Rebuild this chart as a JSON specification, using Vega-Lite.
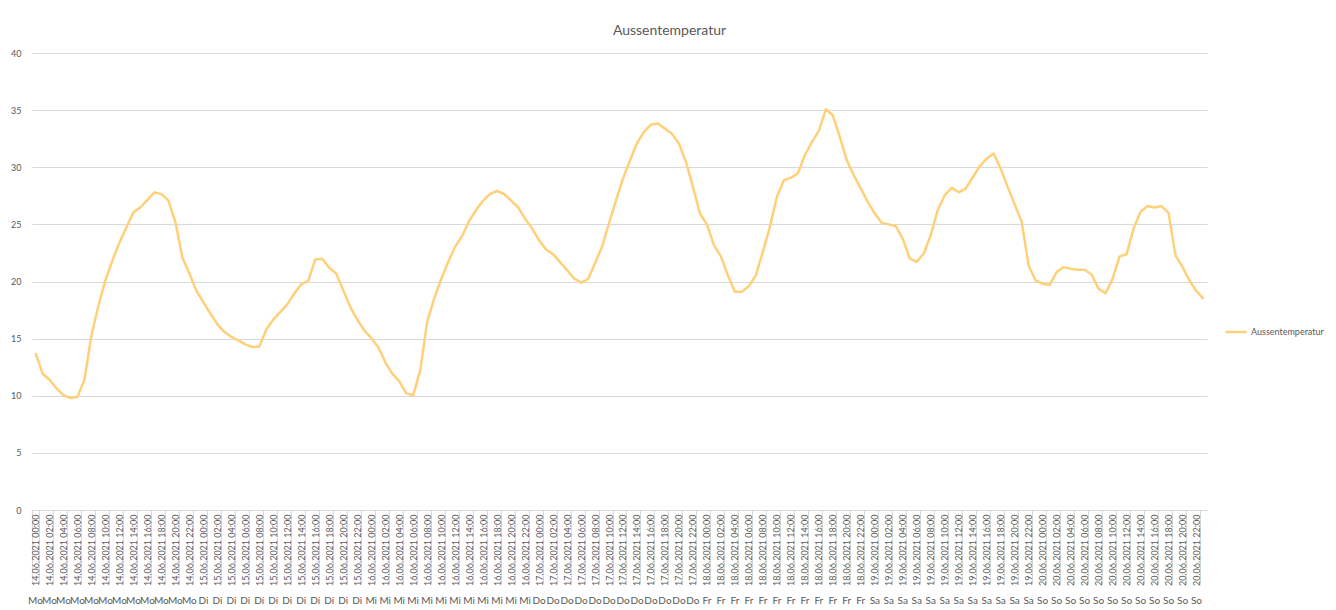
{
  "$schema": "https://vega.github.io/schema/vega-lite/v6.json",
  "width": 1175,
  "height": 457,
  "autosize": {"type": "none"},
  "padding": {"left": 32, "top": 53, "right": 129, "bottom": 100},
  "background": "white",
  "title": {"text": "Aussentemperatur", "fontSize": 14, "fontWeight": "normal", "color": "#595959", "font": "Lato", "offset": 11, "dx": 50},
  "config": {"view": {"stroke": null}, "font": "Lato"},
  "data": {"values": [
    {"t":"14.06.2021 00:00","d":"Mo","v":13.75},{"t":"14.06.2021 01:00","d":"Mo","v":11.95},{"t":"14.06.2021 02:00","d":"Mo","v":11.4},{"t":"14.06.2021 03:00","d":"Mo","v":10.65},{"t":"14.06.2021 04:00","d":"Mo","v":10.05},{"t":"14.06.2021 05:00","d":"Mo","v":9.8},{"t":"14.06.2021 06:00","d":"Mo","v":9.9},{"t":"14.06.2021 07:00","d":"Mo","v":11.4},{"t":"14.06.2021 08:00","d":"Mo","v":15.3},{"t":"14.06.2021 09:00","d":"Mo","v":17.9},{"t":"14.06.2021 10:00","d":"Mo","v":20.1},{"t":"14.06.2021 11:00","d":"Mo","v":21.85},{"t":"14.06.2021 12:00","d":"Mo","v":23.4},{"t":"14.06.2021 13:00","d":"Mo","v":24.75},{"t":"14.06.2021 14:00","d":"Mo","v":26.05},{"t":"14.06.2021 15:00","d":"Mo","v":26.5},{"t":"14.06.2021 16:00","d":"Mo","v":27.15},{"t":"14.06.2021 17:00","d":"Mo","v":27.8},{"t":"14.06.2021 18:00","d":"Mo","v":27.65},{"t":"14.06.2021 19:00","d":"Mo","v":27.1},{"t":"14.06.2021 20:00","d":"Mo","v":25.2},{"t":"14.06.2021 21:00","d":"Mo","v":22.1},{"t":"14.06.2021 22:00","d":"Mo","v":20.7},{"t":"14.06.2021 23:00","d":"Mo","v":19.2},
    {"t":"15.06.2021 00:00","d":"Di","v":18.2},{"t":"15.06.2021 01:00","d":"Di","v":17.2},{"t":"15.06.2021 02:00","d":"Di","v":16.25},{"t":"15.06.2021 03:00","d":"Di","v":15.6},{"t":"15.06.2021 04:00","d":"Di","v":15.15},{"t":"15.06.2021 05:00","d":"Di","v":14.85},{"t":"15.06.2021 06:00","d":"Di","v":14.5},{"t":"15.06.2021 07:00","d":"Di","v":14.27},{"t":"15.06.2021 08:00","d":"Di","v":14.3},{"t":"15.06.2021 09:00","d":"Di","v":15.8},{"t":"15.06.2021 10:00","d":"Di","v":16.67},{"t":"15.06.2021 11:00","d":"Di","v":17.34},{"t":"15.06.2021 12:00","d":"Di","v":18.0},{"t":"15.06.2021 13:00","d":"Di","v":18.95},{"t":"15.06.2021 14:00","d":"Di","v":19.77},{"t":"15.06.2021 15:00","d":"Di","v":20.06},{"t":"15.06.2021 16:00","d":"Di","v":21.93},{"t":"15.06.2021 17:00","d":"Di","v":22.0},{"t":"15.06.2021 18:00","d":"Di","v":21.2},{"t":"15.06.2021 19:00","d":"Di","v":20.7},{"t":"15.06.2021 20:00","d":"Di","v":19.24},{"t":"15.06.2021 21:00","d":"Di","v":17.78},{"t":"15.06.2021 22:00","d":"Di","v":16.67},{"t":"15.06.2021 23:00","d":"Di","v":15.73},
    {"t":"16.06.2021 00:00","d":"Mi","v":15.06},{"t":"16.06.2021 01:00","d":"Mi","v":14.27},{"t":"16.06.2021 02:00","d":"Mi","v":12.95},{"t":"16.06.2021 03:00","d":"Mi","v":11.93},{"t":"16.06.2021 04:00","d":"Mi","v":11.29},{"t":"16.06.2021 05:00","d":"Mi","v":10.23},{"t":"16.06.2021 06:00","d":"Mi","v":10.03},{"t":"16.06.2021 07:00","d":"Mi","v":12.2},{"t":"16.06.2021 08:00","d":"Mi","v":16.46},{"t":"16.06.2021 09:00","d":"Mi","v":18.5},{"t":"16.06.2021 10:00","d":"Mi","v":20.2},{"t":"16.06.2021 11:00","d":"Mi","v":21.7},{"t":"16.06.2021 12:00","d":"Mi","v":23.04},{"t":"16.06.2021 13:00","d":"Mi","v":23.98},{"t":"16.06.2021 14:00","d":"Mi","v":25.3},{"t":"16.06.2021 15:00","d":"Mi","v":26.26},{"t":"16.06.2021 16:00","d":"Mi","v":27.08},{"t":"16.06.2021 17:00","d":"Mi","v":27.66},{"t":"16.06.2021 18:00","d":"Mi","v":27.92},{"t":"16.06.2021 19:00","d":"Mi","v":27.66},{"t":"16.06.2021 20:00","d":"Mi","v":27.08},{"t":"16.06.2021 21:00","d":"Mi","v":26.5},{"t":"16.06.2021 22:00","d":"Mi","v":25.5},{"t":"16.06.2021 23:00","d":"Mi","v":24.65},
    {"t":"17.06.2021 00:00","d":"Do","v":23.6},{"t":"17.06.2021 01:00","d":"Do","v":22.8},{"t":"17.06.2021 02:00","d":"Do","v":22.4},{"t":"17.06.2021 03:00","d":"Do","v":21.7},{"t":"17.06.2021 04:00","d":"Do","v":21.0},{"t":"17.06.2021 05:00","d":"Do","v":20.26},{"t":"17.06.2021 06:00","d":"Do","v":19.9},{"t":"17.06.2021 07:00","d":"Do","v":20.2},{"t":"17.06.2021 08:00","d":"Do","v":21.6},{"t":"17.06.2021 09:00","d":"Do","v":23.04},{"t":"17.06.2021 10:00","d":"Do","v":25.1},{"t":"17.06.2021 11:00","d":"Do","v":27.1},{"t":"17.06.2021 12:00","d":"Do","v":29.0},{"t":"17.06.2021 13:00","d":"Do","v":30.6},{"t":"17.06.2021 14:00","d":"Do","v":32.1},{"t":"17.06.2021 15:00","d":"Do","v":33.1},{"t":"17.06.2021 16:00","d":"Do","v":33.73},{"t":"17.06.2021 17:00","d":"Do","v":33.82},{"t":"17.06.2021 18:00","d":"Do","v":33.38},{"t":"17.06.2021 19:00","d":"Do","v":32.94},{"t":"17.06.2021 20:00","d":"Do","v":32.07},{"t":"17.06.2021 21:00","d":"Do","v":30.47},{"t":"17.06.2021 22:00","d":"Do","v":28.28},{"t":"17.06.2021 23:00","d":"Do","v":25.95},
    {"t":"18.06.2021 00:00","d":"Fr","v":25.0},{"t":"18.06.2021 01:00","d":"Fr","v":23.18},{"t":"18.06.2021 02:00","d":"Fr","v":22.2},{"t":"18.06.2021 03:00","d":"Fr","v":20.55},{"t":"18.06.2021 04:00","d":"Fr","v":19.1},{"t":"18.06.2021 05:00","d":"Fr","v":19.1},{"t":"18.06.2021 06:00","d":"Fr","v":19.6},{"t":"18.06.2021 07:00","d":"Fr","v":20.55},{"t":"18.06.2021 08:00","d":"Fr","v":22.6},{"t":"18.06.2021 09:00","d":"Fr","v":24.78},{"t":"18.06.2021 10:00","d":"Fr","v":27.4},{"t":"18.06.2021 11:00","d":"Fr","v":28.86},{"t":"18.06.2021 12:00","d":"Fr","v":29.07},{"t":"18.06.2021 13:00","d":"Fr","v":29.45},{"t":"18.06.2021 14:00","d":"Fr","v":31.05},{"t":"18.06.2021 15:00","d":"Fr","v":32.2},{"t":"18.06.2021 16:00","d":"Fr","v":33.18},{"t":"18.06.2021 17:00","d":"Fr","v":35.07},{"t":"18.06.2021 18:00","d":"Fr","v":34.55},{"t":"18.06.2021 19:00","d":"Fr","v":32.65},{"t":"18.06.2021 20:00","d":"Fr","v":30.6},{"t":"18.06.2021 21:00","d":"Fr","v":29.3},{"t":"18.06.2021 22:00","d":"Fr","v":28.13},{"t":"18.06.2021 23:00","d":"Fr","v":26.97},
    {"t":"19.06.2021 00:00","d":"Sa","v":25.95},{"t":"19.06.2021 01:00","d":"Sa","v":25.13},{"t":"19.06.2021 02:00","d":"Sa","v":25.0},{"t":"19.06.2021 03:00","d":"Sa","v":24.84},{"t":"19.06.2021 04:00","d":"Sa","v":23.76},{"t":"19.06.2021 05:00","d":"Sa","v":22.0},{"t":"19.06.2021 06:00","d":"Sa","v":21.72},{"t":"19.06.2021 07:00","d":"Sa","v":22.45},{"t":"19.06.2021 08:00","d":"Sa","v":24.05},{"t":"19.06.2021 09:00","d":"Sa","v":26.24},{"t":"19.06.2021 10:00","d":"Sa","v":27.55},{"t":"19.06.2021 11:00","d":"Sa","v":28.19},{"t":"19.06.2021 12:00","d":"Sa","v":27.81},{"t":"19.06.2021 13:00","d":"Sa","v":28.13},{"t":"19.06.2021 14:00","d":"Sa","v":29.1},{"t":"19.06.2021 15:00","d":"Sa","v":30.09},{"t":"19.06.2021 16:00","d":"Sa","v":30.76},{"t":"19.06.2021 17:00","d":"Sa","v":31.2},{"t":"19.06.2021 18:00","d":"Sa","v":29.88},{"t":"19.06.2021 19:00","d":"Sa","v":28.28},{"t":"19.06.2021 20:00","d":"Sa","v":26.75},{"t":"19.06.2021 21:00","d":"Sa","v":25.22},{"t":"19.06.2021 22:00","d":"Sa","v":21.4},{"t":"19.06.2021 23:00","d":"Sa","v":20.09},
    {"t":"20.06.2021 00:00","d":"So","v":19.8},{"t":"20.06.2021 01:00","d":"So","v":19.7},{"t":"20.06.2021 02:00","d":"So","v":20.82},{"t":"20.06.2021 03:00","d":"So","v":21.26},{"t":"20.06.2021 04:00","d":"So","v":21.11},{"t":"20.06.2021 05:00","d":"So","v":21.03},{"t":"20.06.2021 06:00","d":"So","v":21.03},{"t":"20.06.2021 07:00","d":"So","v":20.62},{"t":"20.06.2021 08:00","d":"So","v":19.35},{"t":"20.06.2021 09:00","d":"So","v":18.97},{"t":"20.06.2021 10:00","d":"So","v":20.23},{"t":"20.06.2021 11:00","d":"So","v":22.2},{"t":"20.06.2021 12:00","d":"So","v":22.38},{"t":"20.06.2021 13:00","d":"So","v":24.63},{"t":"20.06.2021 14:00","d":"So","v":26.1},{"t":"20.06.2021 15:00","d":"So","v":26.6},{"t":"20.06.2021 16:00","d":"So","v":26.48},{"t":"20.06.2021 17:00","d":"So","v":26.6},{"t":"20.06.2021 18:00","d":"So","v":26.0},{"t":"20.06.2021 19:00","d":"So","v":22.29},{"t":"20.06.2021 20:00","d":"So","v":21.26},{"t":"20.06.2021 21:00","d":"So","v":20.09},{"t":"20.06.2021 22:00","d":"So","v":19.15},{"t":"20.06.2021 23:00","d":"So","v":18.48}
  ]},
  "layer": [
    {
      "mark": {"type": "line", "strokeWidth": 2.5, "strokeJoin": "round"},
      "encoding": {
        "x": {"field": "t", "type": "ordinal", "sort": null,
          "scale": {"type": "band", "paddingInner": 0, "paddingOuter": 0},
          "axis": {"title": null, "labelAngle": -90, "labelAlign": "right", "labelBaseline": "middle",
            "labelFontSize": 9, "labelColor": "#595959", "labelPadding": -69, "labelOverlap": false,
            "labelExpr": "toNumber(substring(datum.value,11,13)) % 2 == 0 ? datum.value : ''",
            "domainColor": "#d9d9d9", "tickColor": "#d9d9d9", "tickSize": 73, "tickBand": "extent",
            "tickOpacity": {"condition": {"test": "toNumber(substring(datum.value,11,13)) % 2 == 1", "value": 0}, "value": 1},
            "grid": false}},
        "y": {"field": "v", "type": "quantitative",
          "scale": {"domain": [0, 40], "nice": false},
          "axis": {"title": null, "values": [0,5,10,15,20,25,30,35,40], "grid": true, "gridColor": "#d9d9d9",
            "domain": false, "ticks": false, "labelPadding": 11, "labelFontSize": 9, "labelColor": "#595959"}},
        "color": {"datum": "Aussentemperatur", "type": "nominal",
          "scale": {"range": ["#FFD07A"]},
          "legend": {"title": null, "orient": "none", "legendX": 1192, "legendY": 267, "symbolType": "stroke",
            "symbolSize": 441, "symbolStrokeWidth": 2.5, "labelFontSize": 9, "labelColor": "#595959", "labelOffset": 3}}
      }
    },
    {
      "transform": [{"filter": "toNumber(substring(datum.t,11,13)) % 2 == 0"}],
      "mark": {"type": "text", "fontSize": 10, "color": "#595959", "baseline": "middle", "align": "center", "clip": false},
      "encoding": {
        "x": {"field": "t", "type": "ordinal", "sort": null},
        "y": {"datum": -8, "type": "quantitative"},
        "text": {"field": "d", "type": "nominal"}
      }
    }
  ]
}
